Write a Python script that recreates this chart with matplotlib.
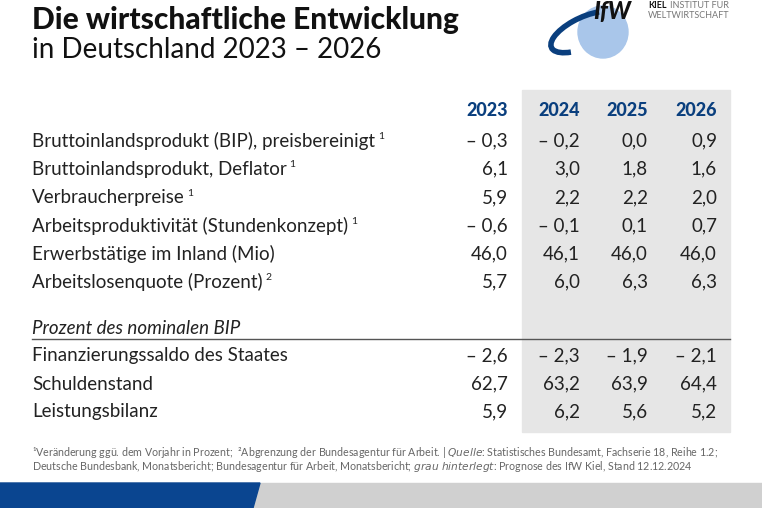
import matplotlib.pyplot as plt
from matplotlib.patches import Rectangle, Polygon, Ellipse, Arc

plt.rcParams['font.family'] = ['Lato', 'DejaVu Sans']

years = ['2023', '2024', '2025', '2026']
labels = ['Bruttoinlandsprodukt (BIP), preisbereinigt', 'Bruttoinlandsprodukt, Deflator',
          'Verbraucherpreise', 'Arbeitsproduktivität (Stundenkonzept)',
          'Erwerbstätige im Inland (Mio)', 'Arbeitslosenquote (Prozent)']
marks = ['1', '1', '1', '1', '', '2']
values = [['– 0,3', '– 0,2', '0,0', '0,9'],
          ['6,1', '3,0', '1,8', '1,6'],
          ['5,9', '2,2', '2,2', '2,0'],
          ['– 0,6', '– 0,1', '0,1', '0,7'],
          ['46,0', '46,1', '46,0', '46,0'],
          ['5,7', '6,0', '6,3', '6,3']]
section = 'Prozent des nominalen BIP'
labels2 = ['Finanzierungssaldo des Staates', 'Schuldenstand', 'Leistungsbilanz']
values2 = [['– 2,6', '– 2,3', '– 1,9', '– 2,1'],
           ['62,7', '63,2', '63,9', '64,4'],
           ['5,9', '6,2', '5,6', '5,2']]

blue = '#0a3f7e'
txt = '#222222'
fig = plt.figure(figsize=(7.62, 5.08), dpi=100)
ax = fig.add_axes([0, 0, 1, 1])
ax.set_xlim(0, 762)
ax.set_ylim(508, 0)
ax.axis('off')

# forecast shading
ax.add_patch(Rectangle((522, 90), 208, 342, color='#e6e6e6', zorder=0))

ax.text(32, 20, 'Die wirtschaftliche Entwicklung', fontsize=21.5, fontweight='black', color='#111', va='center')
ax.text(32, 50, 'in Deutschland 2023 – 2026', fontsize=20, color='#111', va='center')

# logo
ax.add_patch(Ellipse((603, 32), 50, 52, color='#a9c6ea', zorder=1))
ax.add_patch(Arc((585, 32), 74, 30, angle=-25, theta1=150, theta2=330, color='#0a3f7e', lw=4, zorder=2))
ax.text(593, 12, 'IfW', fontsize=17, fontweight='black', style='italic', color='#111', va='center', zorder=3)
ax.text(648, 6, 'KIEL', fontsize=6.5, fontweight='bold', color='#111', va='center')
ax.text(670, 6, 'INSTITUT FÜR', fontsize=6.5, color='#777', va='center')
ax.text(648, 15, 'WELTWIRTSCHAFT', fontsize=6.5, color='#777', va='center')

col_x = [508, 580, 648, 717]
for x, y in zip(col_x, years):
    ax.text(x, 111, y, fontsize=13, fontweight='black', color=blue, ha='right', va='center')

def row(y, label, mark, vals):
    t = ax.text(32, y, label, fontsize=13.5, color=txt, va='center')
    if mark:
        ax.annotate(mark, xy=(1, 0.75), xycoords=t, xytext=(2, 0), textcoords='offset points',
                    fontsize=7.5, color=txt, va='center')
    for x, v in zip(col_x, vals):
        ax.text(x, y, v, fontsize=13.5, color=txt, ha='right', va='center')

for i, (l, m, v) in enumerate(zip(labels, marks, values)):
    row(141 + i * 28.2, l, m, v)

ax.text(32, 328, section, fontsize=13.5, style='italic', color=txt, va='center')
ax.plot([32, 730], [339, 339], color='#555', lw=1)
for i, (l, v) in enumerate(zip(labels2, values2)):
    row(356 + i * 28, l, '', v)

ax.text(32, 452, '¹Veränderung ggü. dem Vorjahr in Prozent;  ²Abgrenzung der Bundesagentur für Arbeit. | '
        r'$\it{Quelle}$: Statistisches Bundesamt, Fachserie 18, Reihe 1.2;', fontsize=7.7, color='#666', va='center')
ax.text(32, 466, 'Deutsche Bundesbank, Monatsbericht; Bundesagentur für Arbeit, Monatsbericht; '
        r'$\it{grau\ hinterlegt}$: Prognose des IfW Kiel, Stand 12.12.2024', fontsize=7.7, color='#666', va='center')

ax.add_patch(Rectangle((0, 483), 762, 25, color='#d0d0d0', zorder=1))
ax.add_patch(Polygon([(0, 483), (260, 483), (253, 508), (0, 508)], color='#0a4590', zorder=2))

fig.savefig('out.png', dpi=100)
